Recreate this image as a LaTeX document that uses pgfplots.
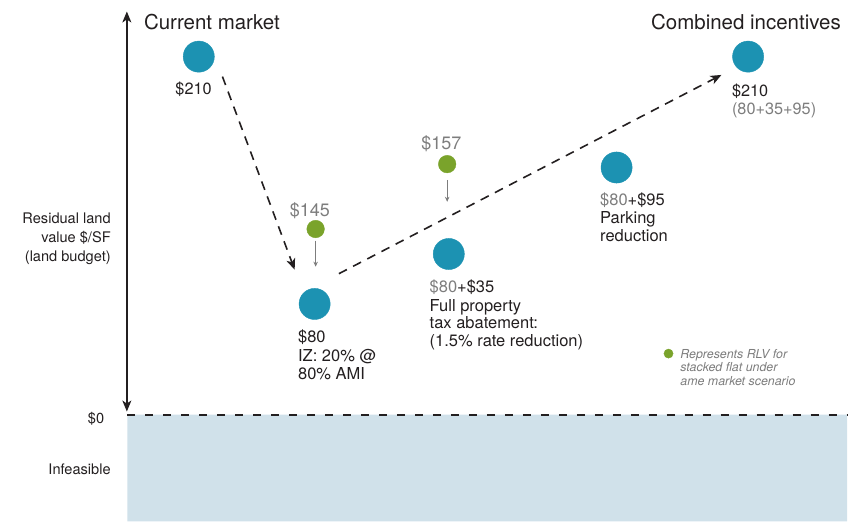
\documentclass[border=0pt]{standalone}
\usepackage{fontspec}
\setmainfont{TeX Gyre Heros}
\usepackage{pgfplots}
\pgfplotsset{compat=1.18}
\usetikzlibrary{arrows.meta}
\definecolor{ptblue}{RGB}{28,146,178}
\definecolor{ptgreen}{RGB}{122,163,43}
\definecolor{shade}{RGB}{208,225,234}
\definecolor{tgray}{RGB}{125,125,125}
\definecolor{tblack}{RGB}{35,31,32}
\newcommand{\fs}[1]{\fontsize{#1bp}{#1bp}\selectfont}
\begin{document}
\begin{tikzpicture}
\begin{axis}[width=848bp, height=522bp, scale only axis, hide axis,
  xmin=0, xmax=848, ymin=0, ymax=522, y dir=reverse, clip=false]
% frame for bounding box
\addplot[draw=none] coordinates {(0,0) (848,522)};
% infeasible region
\addplot[fill=shade, draw=none] coordinates {(127.5,415) (848,415) (848,522) (127.5,522) (127.5,415)};
% zero line
\addplot[line width=2bp, tblack, dash pattern=on 8bp off 10bp] coordinates {(127.5,415) (848,415)};
% vertical axis arrow
\addplot[line width=1.5bp, tblack, {Stealth[length=11bp,width=9bp,inset=3bp]}-{Stealth[length=11bp,width=9bp,inset=3bp]}] coordinates {(127,11.5) (127,412)};
% dashed arrows
\addplot[line width=1.6bp, tblack, dash pattern=on 9bp off 7bp, -{Stealth[length=11bp,width=9bp,inset=3bp]}] coordinates {(222.7,76.7) (295,270)};
\addplot[line width=1.6bp, tblack, dash pattern=on 9bp off 7bp, -{Stealth[length=11bp,width=9bp,inset=3bp]}] coordinates {(339.3,274) (722.3,75)};
% gray small arrows
\addplot[line width=0.9bp, tgray, -{Stealth[length=5bp,width=4.5bp]}] coordinates {(316,241) (316,267)};
\addplot[line width=0.9bp, tgray, -{Stealth[length=5bp,width=4.5bp]}] coordinates {(447.7,180) (447.7,202)};
% blue points
\addplot[only marks, mark=*, mark size=15.6bp, mark options={fill=ptblue, draw=ptblue}] coordinates {(199,56.7) (315,304.3) (449.3,254.3) (617.3,167.7) (749,56.7)};
% green points
\addplot[only marks, mark=*, mark size=8.8bp, mark options={fill=ptgreen, draw=ptgreen}] coordinates {(316,229.3) (447.7,164.3)};
\addplot[only marks, mark=*, mark size=4.6bp, mark options={fill=ptgreen, draw=ptgreen}] coordinates {(669.3,354)};
% headers
\node[anchor=base west, inner sep=0, text=tblack] at (144,30) {\fs{20.5}Current market};
\node[anchor=base east, inner sep=0, text=tblack] at (842,30) {\fs{20.5}Combined incentives};
% labels
\node[anchor=base west, inner sep=0, text=tblack] at (175.5,95) {\fs{16.3}\$210};
\node[anchor=base west, inner sep=0, text=tgray] at (290,217) {\fs{18}\$145};
\node[anchor=base west, inner sep=0, text=tgray] at (421.7,150) {\fs{18}\$157};
\node[anchor=base west, inner sep=0, text=tblack] at (298.3,343.3) {\fs{16.5}\$80};
\node[anchor=base west, inner sep=0, text=tblack] at (298.3,361.5) {\fs{16.5}IZ: 20\% @};
\node[anchor=base west, inner sep=0, text=tblack] at (298.3,379.5) {\fs{16.5}80\% AMI};
\node[anchor=base west, inner sep=0, text=tblack] at (430,293) {\fs{16.5}{\color{tgray}\$80}+\$35};
\node[anchor=base west, inner sep=0, text=tblack] at (430,311.5) {\fs{16.5}Full property};
\node[anchor=base west, inner sep=0, text=tblack] at (430,329) {\fs{16.5}tax abatement:};
\node[anchor=base west, inner sep=0, text=tblack] at (430,346.7) {\fs{16.5}(1.5\% rate reduction)};
\node[anchor=base west, inner sep=0, text=tblack] at (600.7,205.7) {\fs{16.5}{\color{tgray}\$80}+\$95};
\node[anchor=base west, inner sep=0, text=tblack] at (600.7,224) {\fs{16.5}Parking};
\node[anchor=base west, inner sep=0, text=tblack] at (600.7,241.7) {\fs{16.5}reduction};
\node[anchor=base west, inner sep=0, text=tblack] at (732.7,96.7) {\fs{16.3}\$210};
\node[anchor=base west, inner sep=0, text=tgray] at (732.7,114.5) {\fs{16.3}(80+35+95)};
% legend
\node[anchor=base west, inner sep=0, text=tgray] at (681,359) {\fs{12.4}\itshape Represents RLV for};
\node[anchor=base west, inner sep=0, text=tgray] at (681,372.3) {\fs{12.4}\itshape stacked flat under};
\node[anchor=base west, inner sep=0, text=tgray] at (681,385.6) {\fs{12.4}\itshape ame market scenario};
% left labels
\node[anchor=base east, inner sep=0, text=tblack] at (111,224) {\fs{14.6}Residual land};
\node[anchor=base east, inner sep=0, text=tblack] at (111,243) {\fs{14.6}value \$/SF};
\node[anchor=base east, inner sep=0, text=tblack] at (111,262) {\fs{14.6}(land budget)};
\node[anchor=base east, inner sep=0, text=tblack] at (104.5,424.3) {\fs{14.6}\$0};
\node[anchor=base east, inner sep=0, text=tblack] at (111,475) {\fs{14.6}Infeasible};
\end{axis}
\end{tikzpicture}
\end{document}
